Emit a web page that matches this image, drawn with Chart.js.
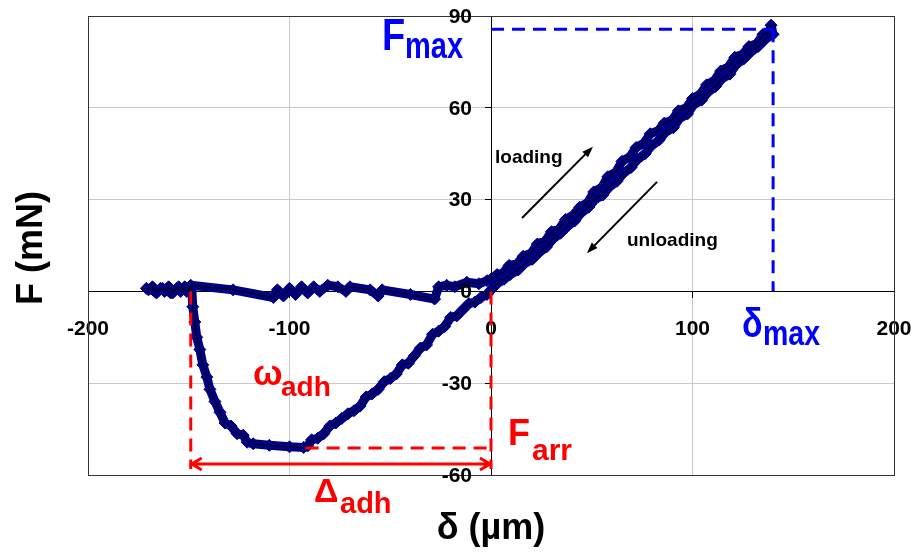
<!DOCTYPE html>
<html>
<head>
<meta charset="utf-8">
<script src="https://cdn.jsdelivr.net/npm/chart.js@4.4.1/dist/chart.umd.min.js"></script>
<style>
  html, body { margin: 0; padding: 0; background: #fff; }
  #wrap { width: 915px; height: 554px; }
</style>
</head>
<body>
<div id="wrap"><canvas id="chart" width="915" height="554"></canvas></div>
<script>
// displacement δ (µm) and force F (mN), in the order they were recorded
const freeDelta = [-170, -168, -166, -164, -162, -160, -158, -156, -154, -152, -150]
const freeForce = [0.5, 1.5, -0.5, 1, 0, 1.5, -0.5, 1, 0, 1.5, 0.5]

const approachDelta = [-149, -128, -108, -106, -103, -100, -97, -94, -91, -88, -85, -81, -76, -72, -70, -60, -56, -54, -40, -28, -26, -22, -18, -12, -6, -2]
const approachForce = [2, 0.5, -2, 0.5, -1.5, 1, -1, 1.5, -0.5, 1.5, 0, 2, 1.5, 0, 1.5, 0.5, -1.5, 0.5, -1, -2.5, 1.5, 2, 1.5, 3, 2.5, 3.5]

const loadDelta = [0, 3, 6, 9, 13, 16, 20, 23, 27, 30, 34, 37, 41, 44, 48, 51, 55, 58, 62, 65, 69, 72, 76, 79, 83, 86, 90, 93, 97, 100, 104, 107, 111, 114, 118, 121, 125, 128, 132, 135, 138, 139]
const loadForce = [4, 5.5, 6, 8.5, 9, 11.5, 12.5, 15.5, 16.5, 19.5, 20.5, 23.5, 25, 27.5, 29, 32.5, 34, 37.5, 39, 42.5, 44, 47, 48.5, 51.5, 52.5, 55, 56, 59, 60, 63, 64.5, 67.5, 69, 72, 73.5, 76.5, 77.5, 80, 81, 84, 84.5, 87]

const unloadDelta = [140, 139.5, 135.5, 132.5, 128.5, 125.5, 121.5, 118.5, 114.5, 111.5, 107.5, 104.5, 100.5, 97.5, 93.5, 90.5, 86.5, 83.5, 79.5, 76.5, 72.5, 69.5, 65.5, 62.5, 58.5, 55.5, 51.5, 48.5, 44.5, 41.5, 37.5, 34.5, 30.5, 27.5, 23.5, 20.5, 16.5, 13.5, 9.5, 6.5, 3, 0]
const unloadForce = [84, 84, 82, 80, 78, 76, 74, 71, 69.5, 67, 65, 62.5, 61, 58, 56.5, 53.5, 52, 49.5, 47.5, 45, 43, 40.5, 38.5, 36, 34, 31.5, 30, 27.5, 25.5, 23, 21, 19, 17, 14.5, 12.5, 10.5, 9, 7, 5.5, 4, 2.5, 0.5]

const pullDelta = [-2, -5, -8, -11, -14, -17, -20, -23, -26, -29, -32, -35, -38, -41, -44, -47, -50, -53, -56, -59, -62, -65, -68, -71, -74, -77, -80, -83, -86, -89, -91, -93, -100, -110, -118, -121]
const pullForce = [-1, -2, -3.5, -4, -6, -8, -8.5, -11.5, -13, -14, -17.5, -18.5, -21, -23.5, -24, -27, -28.5, -29.5, -32, -33.5, -34.5, -37.5, -39, -40, -41.5, -43, -44, -46.5, -48, -48.5, -50.5, -51, -50.8, -50.3, -49.8, -49.3]

const detachDelta = [-123, -126, -129, -132, -134.5, -137, -139.5, -141, -143, -144.5, -146, -147, -148, -148.5, -151, -155, -159, -163, -167, -171]
const detachForce = [-47, -46.5, -44, -43, -39.5, -36, -32, -28, -24, -19, -15, -10, -5, 1, 0, 1.5, -0.5, 1, 0, 1]

const xTicks = [-200, -100, 0, 100, 200]
const yTicks = [-60, -30, 0, 30, 60, 90]

// quantities marked on the curve
const deltaMax = 140
const fMax = 85.7
const fArr = -51.2
const fArrStart = -92
const adhStart = -149
const adhLineBottom = -58
const adhArrowY = -56.4

const allDelta = [].concat(freeDelta, approachDelta, loadDelta, unloadDelta, pullDelta, detachDelta)
const allForce = [].concat(freeForce, approachForce, loadForce, unloadForce, pullForce, detachForce)
const points = allDelta.map((d, i) => ({ x: d, y: allForce[i] }))

const FONT = '"Liberation Sans", Arial, sans-serif'

function text(ctx, str, x, y, size, color, sy) {
  ctx.save()
  ctx.font = `bold ${size}px ${FONT}`
  ctx.fillStyle = color
  ctx.textAlign = 'left'
  ctx.textBaseline = 'alphabetic'
  ctx.translate(x, y)
  ctx.scale(1, sy || 1)
  ctx.fillText(str, 0, 0)
  ctx.restore()
}

function dashed(ctx, x1, y1, x2, y2, color) {
  ctx.save()
  ctx.strokeStyle = color
  ctx.lineWidth = 3
  ctx.setLineDash([13, 8])
  ctx.beginPath()
  ctx.moveTo(x1, y1)
  ctx.lineTo(x2, y2)
  ctx.stroke()
  ctx.restore()
}

function arrow(ctx, x1, y1, x2, y2) {
  const a = Math.atan2(y2 - y1, x2 - x1)
  ctx.save()
  ctx.strokeStyle = '#000'
  ctx.fillStyle = '#000'
  ctx.lineWidth = 2
  ctx.beginPath()
  ctx.moveTo(x1, y1)
  ctx.lineTo(x2 - 6 * Math.cos(a), y2 - 6 * Math.sin(a))
  ctx.stroke()
  ctx.beginPath()
  ctx.moveTo(x2, y2)
  ctx.lineTo(x2 - 11 * Math.cos(a) + 4 * Math.sin(a), y2 - 11 * Math.sin(a) - 4 * Math.cos(a))
  ctx.lineTo(x2 - 11 * Math.cos(a) - 4 * Math.sin(a), y2 - 11 * Math.sin(a) + 4 * Math.cos(a))
  ctx.closePath()
  ctx.fill()
  ctx.restore()
}

const frame = {
  id: 'frame',
  beforeDatasetsDraw(chart) {
    const { ctx, chartArea: a } = chart
    ctx.save()
    ctx.strokeStyle = '#333'
    ctx.lineWidth = 1
    ctx.strokeRect(a.left + 0.5, a.top + 0.5, a.right - a.left, a.bottom - a.top)
    ctx.restore()
  }
}

const tickFont = { family: FONT, size: 21, weight: 'bold' }

const notes = {
  id: 'notes',
  afterDatasetsDraw(chart) {
    const { ctx, scales: { x, y } } = chart
    const px = v => x.getPixelForValue(v)
    const py = v => y.getPixelForValue(v)

    // F max / δ max
    dashed(ctx, px(0), py(fMax), px(deltaMax), py(fMax), '#0000ff')
    dashed(ctx, px(deltaMax), py(fMax), px(deltaMax), py(0), '#0000ff')

    // adhesion
    dashed(ctx, px(adhStart), py(0), px(adhStart), py(adhLineBottom), '#ff0000')
    dashed(ctx, px(0), py(0), px(0), py(adhLineBottom), '#ff0000')
    dashed(ctx, px(fArrStart), py(fArr), px(0), py(fArr), '#ff0000')

    const ay = py(adhArrowY)
    const l = px(adhStart), r = px(0)
    ctx.save()
    ctx.strokeStyle = '#ff0000'
    ctx.lineWidth = 3
    ctx.beginPath()
    ctx.moveTo(l, ay); ctx.lineTo(r, ay)
    ctx.moveTo(l + 11, ay - 6); ctx.lineTo(l + 1, ay); ctx.lineTo(l + 11, ay + 6)
    ctx.moveTo(r - 11, ay - 6); ctx.lineTo(r - 1, ay); ctx.lineTo(r - 11, ay + 6)
    ctx.stroke()
    ctx.restore()

    // loading / unloading
    arrow(ctx, px(15.4), py(24), px(50.6), py(47.3))
    arrow(ctx, px(82.4), py(35.8), px(47.6), py(12.5))
  },
  afterDraw(chart) {
    const { ctx, scales: { x, y } } = chart

    // y tick labels, set off to the left of the crossing axis
    ctx.save()
    ctx.font = `bold ${tickFont.size}px ${FONT}`
    ctx.fillStyle = '#000'
    ctx.textAlign = 'right'
    ctx.textBaseline = 'middle'
    y.ticks.forEach(t => ctx.fillText(String(t.value), x.getPixelForValue(0) - 19, y.getPixelForValue(t.value) + 1))
    ctx.restore()

    text(ctx, 'loading', 495, 163, 19, '#000')
    text(ctx, 'unloading', 627, 246, 19, '#000')

    text(ctx, 'F', 382, 50, 38, '#0000ff', 1.18)
    text(ctx, 'max', 405, 58, 29, '#0000ff', 1.3)

    text(ctx, 'δ', 742, 337, 34, '#0000ff', 1.2)
    text(ctx, 'max', 763, 345, 28.5, '#0000ff', 1.22)

    text(ctx, 'ω', 253, 385, 35, '#ff0000')
    text(ctx, 'adh', 281, 396, 28, '#ff0000')

    text(ctx, 'F', 508, 445, 36, '#ff0000')
    text(ctx, 'arr', 532, 460, 30, '#ff0000')

    text(ctx, 'Δ', 314, 502, 34, '#ff0000')
    text(ctx, 'adh', 340, 513, 29, '#ff0000')

    // axis titles
    ctx.save()
    ctx.font = `bold 36px ${FONT}`
    ctx.fillStyle = '#000'
    ctx.textAlign = 'center'
    ctx.textBaseline = 'alphabetic'
    ctx.fillText('δ (µm)', 491, 539)
    ctx.translate(42, 248)
    ctx.rotate(-Math.PI / 2)
    ctx.fillText('F (mN)', 0, 0)
    ctx.restore()
  }
}

// the axes cross inside the plot, so their labels must not shrink the plot area
function noOverhang(s) {
  s.paddingLeft = 0
  s.paddingRight = 0
  s.paddingTop = 0
  s.paddingBottom = 0
}

new Chart(document.getElementById('chart').getContext('2d'), {
  type: 'scatter',
  data: {
    datasets: [
      {
        data: points,
        showLine: true,
        borderColor: '#000',
        borderWidth: 1,
        pointRadius: 0,
        order: 0
      },
      {
        data: points,
        showLine: true,
        borderColor: '#000080',
        borderWidth: 9,
        borderJoinStyle: 'round',
        borderCapStyle: 'round',
        pointStyle: 'rectRot',
        pointRadius: 6,
        pointBorderWidth: 1,
        pointBackgroundColor: '#000080',
        pointBorderColor: '#000080',
        order: 1
      }
    ]
  },
  options: {
    responsive: false,
    animation: false,
    events: [],
    layout: { padding: { left: 88, right: 21, top: 16, bottom: 79 } },
    plugins: { legend: { display: false }, tooltip: { enabled: false } },
    scales: {
      x: {
        type: 'linear',
        position: { y: 0 },
        min: -200,
        max: 200,
        afterBuildTicks: s => { s.ticks = xTicks.map(v => ({ value: v })) },
        afterFit: noOverhang,
        grid: { color: '#c8c8c8', tickColor: '#000', tickLength: 6 },
        border: { color: '#000', width: 1 },
        ticks: { padding: 19, color: '#000', font: tickFont, maxRotation: 0, autoSkip: false }
      },
      y: {
        type: 'linear',
        position: { x: 0 },
        min: -60,
        max: 90,
        afterBuildTicks: s => { s.ticks = yTicks.map(v => ({ value: v })) },
        afterFit: noOverhang,
        grid: { color: '#c8c8c8', tickColor: '#000', tickLength: 6 },
        border: { color: '#000', width: 1 },
        ticks: { display: false }
      }
    }
  },
  plugins: [frame, notes]
})
</script>
</body>
</html>
